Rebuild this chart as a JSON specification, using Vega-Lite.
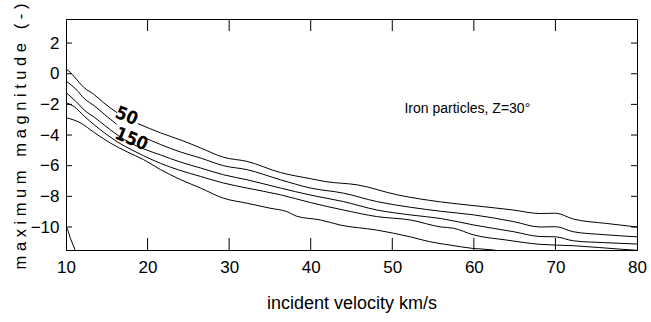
{
  "$schema": "https://vega.github.io/schema/vega-lite/v6.json",
  "width": 571,
  "height": 231,
  "autosize": {"type": "none"},
  "padding": {"left": 66, "top": 19, "right": 14, "bottom": 72},
  "background": "white",
  "config": {
    "view": {"stroke": "black", "strokeWidth": 1},
    "font": "Liberation Sans",
    "axis": {"labelFontSize": 17, "titleFontSize": 18}
  },
  "datasets": {
    "curves": [
      {"s": "A1", "x": 10, "y": 0.3}, {"s": "A1", "x": 10.5, "y": 0.1}, {"s": "A1", "x": 11.1, "y": -0.25}, {"s": "A1", "x": 12.2, "y": -0.9}, {"s": "A1", "x": 13.4, "y": -1.34}, {"s": "A1", "x": 14.6, "y": -1.89}, {"s": "A1", "x": 16.25, "y": -2.54},
      {"s": "A2", "x": 18.8, "y": -3.25}, {"s": "A2", "x": 21.6, "y": -3.86}, {"s": "A2", "x": 24.2, "y": -4.35}, {"s": "A2", "x": 26.5, "y": -4.84}, {"s": "A2", "x": 29.3, "y": -5.45}, {"s": "A2", "x": 32.2, "y": -5.72}, {"s": "A2", "x": 36.3, "y": -6.45}, {"s": "A2", "x": 40, "y": -6.85}, {"s": "A2", "x": 42, "y": -7.05}, {"s": "A2", "x": 45.7, "y": -7.25}, {"s": "A2", "x": 50.6, "y": -7.9}, {"s": "A2", "x": 55.9, "y": -8.36}, {"s": "A2", "x": 59.9, "y": -8.6}, {"s": "A2", "x": 64.8, "y": -8.89}, {"s": "A2", "x": 68.1, "y": -9.12}, {"s": "A2", "x": 70, "y": -9.1}, {"s": "A2", "x": 72.2, "y": -9.48}, {"s": "A2", "x": 76.3, "y": -9.77}, {"s": "A2", "x": 80, "y": -10.0},
      {"s": "B1", "x": 10, "y": -0.47}, {"s": "B1", "x": 11.2, "y": -1.0}, {"s": "B1", "x": 12.3, "y": -1.65}, {"s": "B1", "x": 13.5, "y": -2.1}, {"s": "B1", "x": 14.7, "y": -2.65}, {"s": "B1", "x": 16.2, "y": -3.3},
      {"s": "B2", "x": 19.3, "y": -4.1}, {"s": "B2", "x": 21.6, "y": -4.62}, {"s": "B2", "x": 24, "y": -5.1}, {"s": "B2", "x": 26.5, "y": -5.5}, {"s": "B2", "x": 29.3, "y": -6.0}, {"s": "B2", "x": 32.2, "y": -6.26}, {"s": "B2", "x": 36.3, "y": -6.92}, {"s": "B2", "x": 40, "y": -7.46}, {"s": "B2", "x": 44, "y": -7.79}, {"s": "B2", "x": 48.1, "y": -8.34}, {"s": "B2", "x": 52.2, "y": -8.71}, {"s": "B2", "x": 55.9, "y": -8.97}, {"s": "B2", "x": 60, "y": -9.21}, {"s": "B2", "x": 64.9, "y": -9.65}, {"s": "B2", "x": 68.1, "y": -10.0}, {"s": "B2", "x": 70, "y": -9.98}, {"s": "B2", "x": 72.2, "y": -10.31}, {"s": "B2", "x": 76, "y": -10.5}, {"s": "B2", "x": 80, "y": -10.64},
      {"s": "C", "x": 10, "y": -1.23}, {"s": "C", "x": 11.2, "y": -1.8}, {"s": "C", "x": 12.3, "y": -2.4}, {"s": "C", "x": 13.5, "y": -2.85}, {"s": "C", "x": 14.7, "y": -3.35}, {"s": "C", "x": 16.3, "y": -4.0}, {"s": "C", "x": 18, "y": -4.55}, {"s": "C", "x": 19.5, "y": -4.9}, {"s": "C", "x": 21.6, "y": -5.3}, {"s": "C", "x": 24, "y": -5.76}, {"s": "C", "x": 26.5, "y": -6.15}, {"s": "C", "x": 29.3, "y": -6.59}, {"s": "C", "x": 32.2, "y": -6.92}, {"s": "C", "x": 36.3, "y": -7.46}, {"s": "C", "x": 40, "y": -7.92}, {"s": "C", "x": 44, "y": -8.34}, {"s": "C", "x": 48.1, "y": -8.89}, {"s": "C", "x": 52.2, "y": -9.21}, {"s": "C", "x": 56, "y": -9.45}, {"s": "C", "x": 60, "y": -9.87}, {"s": "C", "x": 64.9, "y": -10.31}, {"s": "C", "x": 68.1, "y": -10.62}, {"s": "C", "x": 70, "y": -10.64}, {"s": "C", "x": 72.2, "y": -10.9}, {"s": "C", "x": 76, "y": -11.02}, {"s": "C", "x": 80, "y": -11.11},
      {"s": "D", "x": 10, "y": -1.89}, {"s": "D", "x": 11, "y": -2.15}, {"s": "D", "x": 12.3, "y": -2.8}, {"s": "D", "x": 13.5, "y": -3.35}, {"s": "D", "x": 14.7, "y": -3.85}, {"s": "D", "x": 16.3, "y": -4.45}, {"s": "D", "x": 18, "y": -4.95}, {"s": "D", "x": 19.5, "y": -5.35}, {"s": "D", "x": 21.6, "y": -5.85}, {"s": "D", "x": 24, "y": -6.31}, {"s": "D", "x": 26.5, "y": -6.7}, {"s": "D", "x": 29.3, "y": -7.13}, {"s": "D", "x": 32.2, "y": -7.46}, {"s": "D", "x": 36.3, "y": -7.9}, {"s": "D", "x": 40, "y": -8.41}, {"s": "D", "x": 44, "y": -8.89}, {"s": "D", "x": 48.1, "y": -9.32}, {"s": "D", "x": 52.2, "y": -9.54}, {"s": "D", "x": 56, "y": -10.0}, {"s": "D", "x": 57.5, "y": -10.08}, {"s": "D", "x": 60, "y": -10.52}, {"s": "D", "x": 64, "y": -10.85}, {"s": "D", "x": 68.1, "y": -11.13}, {"s": "D", "x": 72.2, "y": -11.22}, {"s": "D", "x": 78.3, "y": -11.46}, {"s": "D", "x": 80, "y": -11.52},
      {"s": "E", "x": 10, "y": -2.87}, {"s": "E", "x": 11.75, "y": -3.2}, {"s": "E", "x": 13.5, "y": -3.85}, {"s": "E", "x": 15.4, "y": -4.51}, {"s": "E", "x": 17.5, "y": -5.1}, {"s": "E", "x": 19.5, "y": -5.6}, {"s": "E", "x": 21.6, "y": -6.26}, {"s": "E", "x": 24, "y": -6.9}, {"s": "E", "x": 26.5, "y": -7.46}, {"s": "E", "x": 29.3, "y": -8.12}, {"s": "E", "x": 32.2, "y": -8.45}, {"s": "E", "x": 35, "y": -8.77}, {"s": "E", "x": 37.1, "y": -9.0}, {"s": "E", "x": 38.3, "y": -9.3}, {"s": "E", "x": 41.2, "y": -9.54}, {"s": "E", "x": 43.6, "y": -9.87}, {"s": "E", "x": 48.1, "y": -10.2}, {"s": "E", "x": 52.2, "y": -10.64}, {"s": "E", "x": 54.6, "y": -10.96}, {"s": "E", "x": 57.1, "y": -11.18}, {"s": "E", "x": 59.9, "y": -11.4}, {"s": "E", "x": 62.4, "y": -11.5}, {"s": "E", "x": 63, "y": -11.55},
      {"s": "F", "x": 10.04, "y": -6.6}, {"s": "F", "x": 10.03, "y": -7.6}, {"s": "F", "x": 10.01, "y": -9.0}, {"s": "F", "x": 10.0, "y": -10.0}, {"s": "F", "x": 10.55, "y": -10.75}, {"s": "F", "x": 11.15, "y": -11.55}
    ],
    "xt": [{"v": 20}, {"v": 30}, {"v": 40}, {"v": 50}, {"v": 60}, {"v": 70}],
    "yt": [{"v": -10}, {"v": -8}, {"v": -6}, {"v": -4}, {"v": -2}, {"v": 0}, {"v": 2}],
    "clabels": [
      {"x": 17.4, "y": -2.8, "t": "50"},
      {"x": 18.0, "y": -4.3, "t": "150"}
    ],
    "note": [
      {"x": 59.2, "y": -2.33, "t": "Iron particles, Z=30°"}
    ]
  },
  "resolve": {"axis": {"x": "independent", "y": "independent"}},
  "layer": [
    {
      "data": {"name": "curves"},
      "mark": {"type": "line", "color": "black", "strokeWidth": 1, "clip": true, "interpolate": "monotone"},
      "encoding": {
        "x": {
          "field": "x", "type": "quantitative",
          "scale": {"domain": [10, 80], "nice": false, "zero": false},
          "axis": {
            "orient": "bottom", "values": [10, 20, 30, 40, 50, 60, 70, 80],
            "ticks": false, "grid": false, "domainColor": "black",
            "labelColor": "black", "labelFont": "Liberation Sans", "labelPadding": 9, "labelFlush": false,
            "title": "incident velocity km/s", "titleColor": "black", "titleFont": "Liberation Sans", "titleFontWeight": "normal",
            "titleY": 53, "titleBaseline": "middle"
          }
        },
        "y": {
          "field": "y", "type": "quantitative",
          "scale": {"domain": [-11.5, 3.57], "nice": false, "zero": false},
          "axis": {
            "orient": "left", "values": [-10, -8, -6, -4, -2, 0, 2],
            "ticks": false, "grid": false, "domainColor": "black",
            "labelColor": "black", "labelFont": "Liberation Sans", "labelPadding": 7, "labelBaseline": "middle", "labelFlush": false,
            "title": "m a x i m u m\u00a0\u00a0 m a g n i t u d e\u00a0\u00a0 ( - )",
            "titleColor": "black", "titleFont": "Liberation Sans", "titleFontWeight": "normal",
            "titleFontSize": 16.5, "titleAngle": -90, "titleX": -46, "titleY": 117,
            "titleBaseline": "middle", "titleAlign": "center"
          }
        },
        "detail": {"field": "s"},
        "order": {"value": null}
      }
    },
    {
      "data": {"name": "xt"},
      "mark": {"type": "rule", "color": "black", "strokeWidth": 1},
      "encoding": {
        "x": {"field": "v", "type": "quantitative", "axis": null},
        "y": {"datum": -11.5, "type": "quantitative", "axis": null},
        "y2": {"datum": -10.714}
      }
    },
    {
      "data": {"name": "xt"},
      "mark": {"type": "rule", "color": "black", "strokeWidth": 1},
      "encoding": {
        "x": {"field": "v", "type": "quantitative", "axis": null},
        "y": {"datum": 3.57, "type": "quantitative", "axis": null},
        "y2": {"datum": 2.784}
      }
    },
    {
      "data": {"name": "yt"},
      "mark": {"type": "rule", "color": "black", "strokeWidth": 1},
      "encoding": {
        "y": {"field": "v", "type": "quantitative", "axis": null},
        "x": {"datum": 10, "type": "quantitative", "axis": null},
        "x2": {"datum": 10.735}
      }
    },
    {
      "data": {"name": "yt"},
      "mark": {"type": "rule", "color": "black", "strokeWidth": 1},
      "encoding": {
        "y": {"field": "v", "type": "quantitative", "axis": null},
        "x": {"datum": 80, "type": "quantitative", "axis": null},
        "x2": {"datum": 79.265}
      }
    },
    {
      "data": {"name": "clabels"},
      "mark": {"type": "text", "color": "black", "font": "DejaVu Sans Condensed", "fontWeight": "bold", "fontSize": 18, "angle": 22, "align": "center", "baseline": "middle"},
      "encoding": {
        "x": {"field": "x", "type": "quantitative", "axis": null},
        "y": {"field": "y", "type": "quantitative", "axis": null},
        "text": {"field": "t"}
      }
    },
    {
      "data": {"name": "note"},
      "mark": {"type": "text", "color": "black", "font": "Liberation Sans", "fontSize": 14, "align": "center", "baseline": "middle"},
      "encoding": {
        "x": {"field": "x", "type": "quantitative", "axis": null},
        "y": {"field": "y", "type": "quantitative", "axis": null},
        "text": {"field": "t"}
      }
    }
  ]
}
